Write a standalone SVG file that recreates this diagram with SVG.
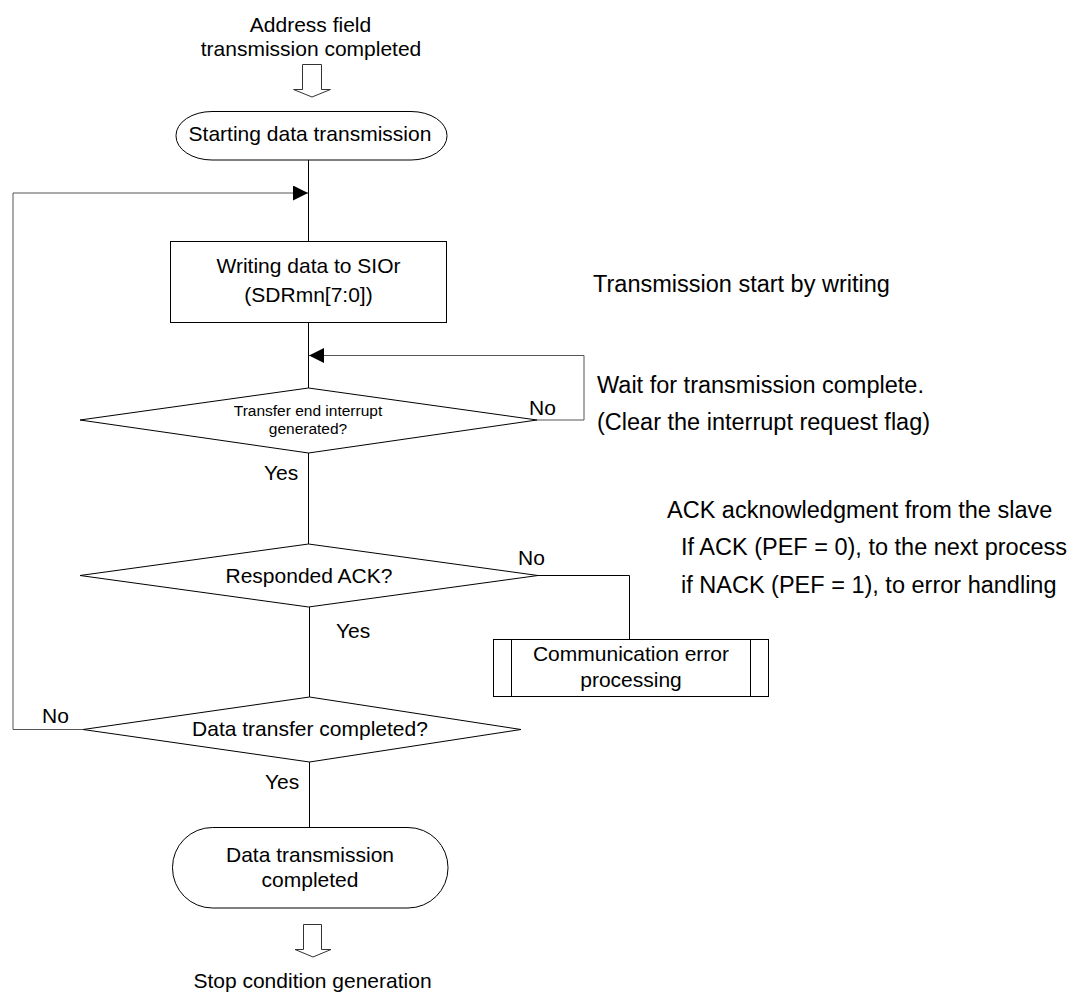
<svg xmlns="http://www.w3.org/2000/svg" width="1091" height="994" viewBox="0 0 1091 994">
<style>
text{font-family:"Liberation Sans",Arial,Helvetica,sans-serif;fill:#000;font-size:21px}
.c{text-anchor:middle}
.s{font-size:15.5px}
.n{font-size:23.5px}
.shape{fill:#fff;stroke:#000;stroke-width:1}
.ln{fill:none;stroke:#000;stroke-width:1}
.lp{fill:none;stroke:#555;stroke-width:1}
.big{fill:#fff;stroke:#333;stroke-width:1}
</style>
<defs>
<marker id="ah" viewBox="0 0 15 15" refX="15" refY="7.5" markerWidth="15" markerHeight="15" markerUnits="userSpaceOnUse" orient="auto">
<path d="M0,0 L15,7.5 L0,15 Z" fill="#000"/>
</marker>
</defs>
<rect width="1091" height="994" fill="#fff"/>
<g id="connectors">
<path class="big" d="M302.5,64.5 H321.5 V89.5 H330.5 L312,97 L293.5,89.5 H302.5 Z"/>
<line class="ln" x1="308.5" y1="160" x2="308.5" y2="241"/>
<line class="ln" x1="308.5" y1="323" x2="308.5" y2="388"/>
<line class="ln" x1="308.5" y1="453" x2="308.5" y2="544"/>
<line class="ln" x1="309.5" y1="607" x2="309.5" y2="697"/>
<line class="ln" x1="309.5" y1="762" x2="309.5" y2="827"/>
<polyline class="lp" points="537,420 584,420 584,355.5 309,355.5" marker-end="url(#ah)"/>
<polyline class="ln" points="538,575.5 629.5,575.5 629.5,639"/>
<polyline class="lp" points="83,729.5 13,729.5 13,193 308,193" marker-end="url(#ah)"/>
<path class="big" d="M303.5,924.5 H321.5 V949.5 H331 L313,957 L295,949.5 H303.5 Z"/>
</g>
<g id="lbl-top">
<text class="c" x="310.5" y="32">Address field</text>
<text class="c" x="311" y="56">transmission completed</text>
</g>
<g id="start">
<rect class="shape" x="176" y="111.5" width="271" height="48.5" rx="36" ry="24"/>
<text class="c" x="310" y="141">Starting data transmission</text>
</g>
<g id="write">
<rect class="shape" x="170.5" y="241.5" width="276" height="81"/>
<text class="c" x="308.5" y="273">Writing data to SIOr</text>
<text class="c" x="308.5" y="302">(SDRmn[7:0])</text>
</g>
<g id="d1">
<polygon class="shape" points="308.5,388 537,420 308.5,453 80,420"/>
<text class="c s" x="308" y="416">Transfer end interrupt</text>
<text class="c s" x="308" y="434">generated?</text>
<text x="529" y="415">No</text>
<text x="264" y="480">Yes</text>
</g>
<g id="d2">
<polygon class="shape" points="308.5,544 538,575.5 308.5,607 80,575.5"/>
<text class="c" x="309" y="583">Responded ACK?</text>
<text x="518" y="565">No</text>
<text x="336" y="638">Yes</text>
</g>
<g id="err">
<rect class="shape" x="493.5" y="639.5" width="275" height="57"/>
<line class="ln" x1="511.5" y1="639.5" x2="511.5" y2="696.5"/>
<line class="ln" x1="750.5" y1="639.5" x2="750.5" y2="696.5"/>
<text class="c" x="631" y="661">Communication error</text>
<text class="c" x="631" y="687">processing</text>
</g>
<g id="d3">
<polygon class="shape" points="309.5,697 521,729.5 309.5,762 83,729.5"/>
<text class="c" x="310" y="736">Data transfer completed?</text>
<text x="42" y="723">No</text>
<text x="265" y="789">Yes</text>
</g>
<g id="end">
<rect class="shape" x="172.5" y="827.5" width="275.5" height="80.5" rx="40" ry="40"/>
<text class="c" x="310" y="862">Data transmission</text>
<text class="c" x="310" y="887">completed</text>
</g>
<g id="lbl-bottom">
<text class="c" x="312.5" y="988">Stop condition generation</text>
</g>
<g id="notes">
<text class="n" x="593" y="292">Transmission start by writing</text>
<text class="n" x="597" y="393">Wait for transmission complete.</text>
<text class="n" x="597" y="430">(Clear the interrupt request flag)</text>
<text class="n" x="667" y="518">ACK acknowledgment from the slave</text>
<text class="n" x="681" y="555">If ACK (PEF = 0), to the next process</text>
<text class="n" x="681" y="593">if NACK (PEF = 1), to error handling</text>
</g>
</svg>
